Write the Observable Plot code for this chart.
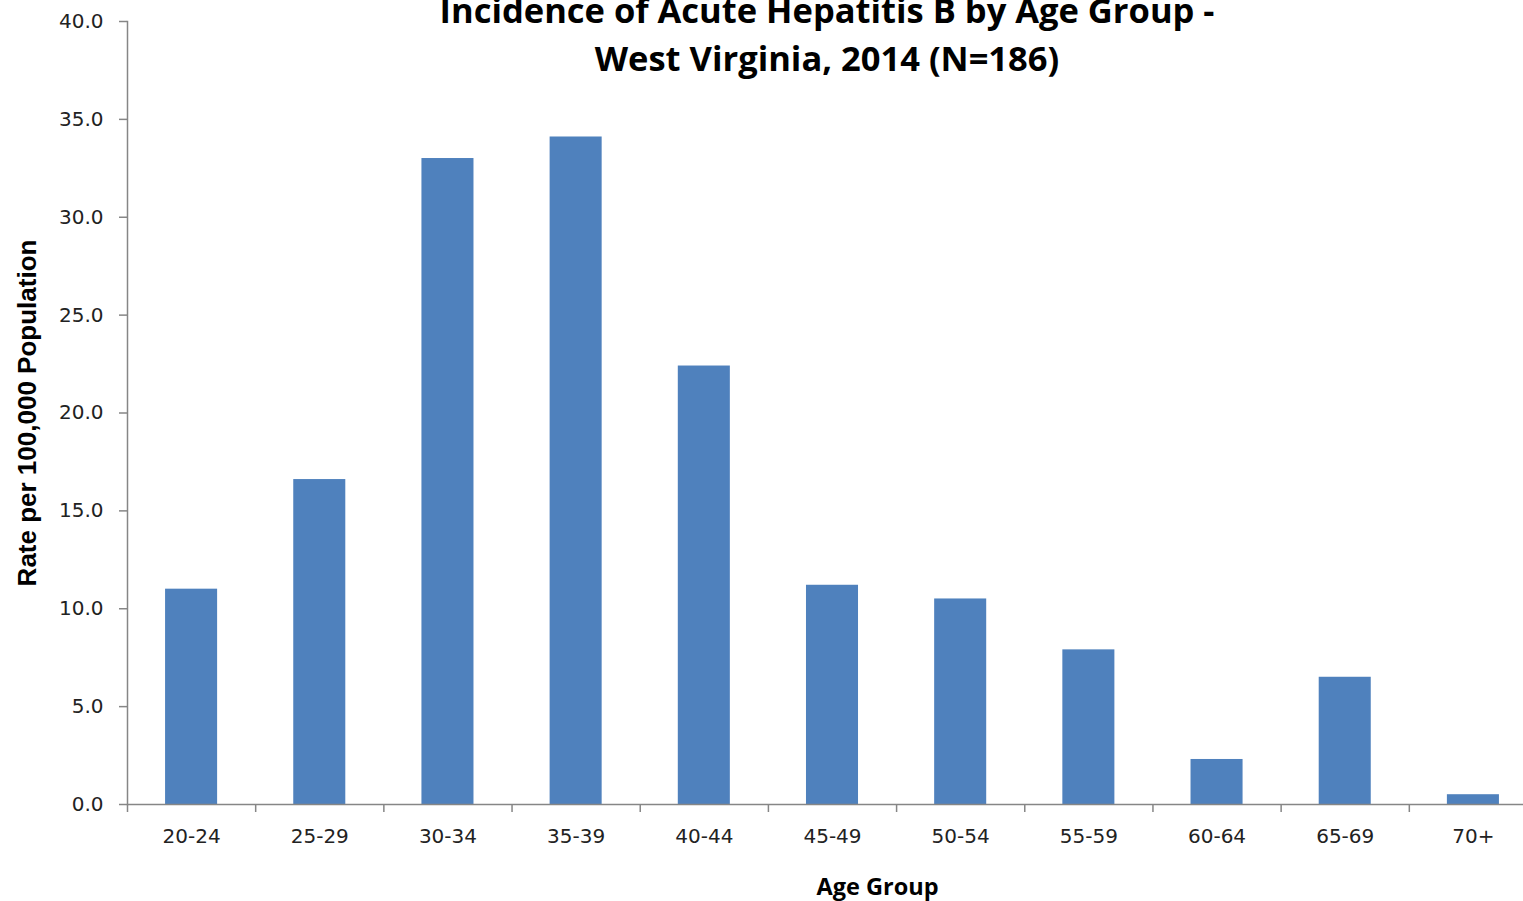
<!DOCTYPE html>
<html>
<head>
<meta charset="utf-8">
<script src="https://cdn.jsdelivr.net/npm/d3@7"></script>
<script src="https://cdn.jsdelivr.net/npm/@observablehq/plot@0.6"></script>
<style>
  html, body { margin: 0; padding: 0; background: #fff; overflow: hidden; }
  #wrap { position: relative; width: 1523px; height: 901px; overflow: hidden; }
  #chart svg { max-width: none !important; }
  #title {
    position: absolute; left: 127px; width: 1400px; top: -14px;
    text-align: center; font-family: "Open Sans", sans-serif;
    font-weight: bold; font-size: 34.5px; line-height: 48px; color: #000;
  }
</style>
</head>
<body>
<div id="wrap">
  <div id="chart"></div>
  <div id="title">Incidence of Acute Hepatitis B by Age Group -<br>West Virginia, 2014 (N=186)</div>
</div>
<script>
const ageGroups = ["20-24","25-29","30-34","35-39","40-44","45-49","50-54","55-59","60-64","65-69","70+"];
const rates = [11.0, 16.6, 33.0, 34.1, 22.4, 11.2, 10.5, 7.9, 2.3, 6.5, 0.5];
const yTicks = [0, 5, 10, 15, 20, 25, 30, 35, 40];

const data = ageGroups.map((g, i) => ({group: g, rate: rates[i]}));

const W = 1537, H = 901, mL = 127, mR = 0, mT = 21, mB = 97;
const step = (W - mL - mR) / ageGroups.length;
const axisColor = "#868686";

const chart = Plot.plot({
  width: W, height: H,
  marginLeft: mL, marginRight: mR, marginTop: mT, marginBottom: mB,
  style: { fontFamily: "DejaVu Sans, sans-serif", fontSize: "20px", color: "#222", background: "#fff", maxWidth: "none" },
  x: { domain: ageGroups, paddingInner: 0.594, paddingOuter: 0.297, align: 0.5, round: false },
  y: { domain: [0, 40] },
  marks: [
    Plot.barY(data, { x: "group", y: "rate", fill: "#4F81BD" }),
    Plot.ruleY([0], { stroke: axisColor, strokeWidth: 1.5 }),
    Plot.frame({ anchor: "left", stroke: axisColor, strokeWidth: 1.5 }),
    Plot.axisY({ ticks: yTicks, tickFormat: d3.format(".1f"), tickSize: 8, tickPadding: 16, stroke: axisColor, strokeWidth: 1.5, strokeOpacity: 1, label: null, fontSize: 20, fill: "#222" }),
    Plot.axisX({ tickSize: 0, tickPadding: 24, label: null, fontSize: 20, fill: "#222" }),
    Plot.axisX({ tickSize: 8, tickFormat: () => "", dx: -step / 2, stroke: axisColor, strokeWidth: 1.5, strokeOpacity: 1, label: null }),
    Plot.text(["Age Group"], { frameAnchor: "bottom", dx: 45, dy: 90, fontWeight: "bold", fontSize: 23.5, fontFamily: "Open Sans, sans-serif", fill: "#000" }),
    Plot.text(["Rate per 100,000 Population"], { frameAnchor: "left", textAnchor: "middle", rotate: -90, dx: -100, fontWeight: "bold", fontSize: 26, fontFamily: "Liberation Sans, Arial, sans-serif", fill: "#000" })
  ]
});
document.getElementById("chart").appendChild(chart);
</script>
</body>
</html>
